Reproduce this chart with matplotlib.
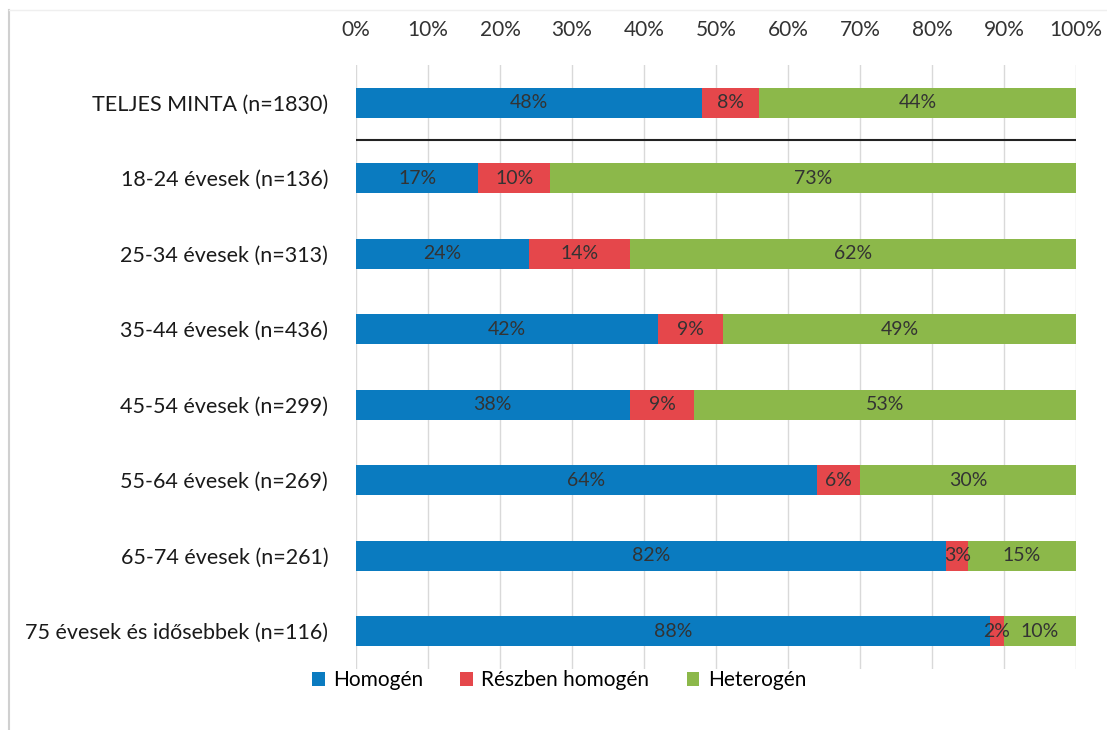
import matplotlib
matplotlib.use("Agg")
import matplotlib.pyplot as plt
from matplotlib.lines import Line2D

plt.rcParams['font.family'] = ['Lato', 'DejaVu Sans']

categories = ["TELJES MINTA (n=1830)", "18-24 évesek (n=136)", "25-34 évesek (n=313)",
              "35-44 évesek (n=436)", "45-54 évesek (n=299)", "55-64 évesek (n=269)",
              "65-74 évesek (n=261)", "75 évesek és idősebbek (n=116)"]
homogen = [48, 17, 24, 42, 38, 64, 82, 88]
reszben = [8, 10, 14, 9, 9, 6, 3, 2]
heterogen = [44, 73, 62, 49, 53, 30, 15, 10]
series_names = ["Homogén", "Részben homogén", "Heterogén"]
colors = ["#0a7bc0", "#e5474b", "#8cb84a"]

fig = plt.figure(figsize=(11.07, 7.3), dpi=100)
ax = fig.add_axes([0.3216, 0.0836, 0.6504, 0.8274])

# faint frame edges (left and top) as in the scanned chart
fig.lines.append(Line2D([0.008, 0.008], [0.0, 0.986], transform=fig.transFigure,
                        color="#d0d0d0", linewidth=1.5))
fig.lines.append(Line2D([0.008, 1.0], [0.986, 0.986], transform=fig.transFigure,
                        color="#efefef", linewidth=1))

ypos = list(range(len(categories)))
left = [0] * len(categories)
for vals, name, col in zip([homogen, reszben, heterogen], series_names, colors):
    bars = ax.barh(ypos, vals, left=left, height=0.4, color=col, label=name, zorder=3)
    for b, v in zip(bars, vals):
        ax.text(b.get_x() + b.get_width() / 2, b.get_y() + b.get_height() / 2, f"{v}%",
                ha="center", va="center", fontsize=14, color="#333333", zorder=4)
    left = [l + v for l, v in zip(left, vals)]

ax.set_xlim(0, 100)
ax.set_ylim(len(categories) - 0.5, -0.5)
ax.set_yticks(ypos)
ax.set_yticklabels(categories, fontsize=15.5, color="#1a1a1a")
ax.set_xticks(range(0, 101, 10))
ax.set_xticklabels([f"{t}%" for t in range(0, 101, 10)], fontsize=15, color="#333333")
ax.xaxis.tick_top()
ax.tick_params(axis="both", length=0)
ax.tick_params(axis="x", pad=18)
ax.tick_params(axis="y", pad=20)
ax.grid(axis="x", color="#d9d9d9", linewidth=1, zorder=0)
for s in ax.spines.values():
    s.set_visible(False)

# separator line under the full-sample bar
ax.axhline(0.5, color="#222222", linewidth=1.5, zorder=2)

fig.legend(loc="center", bbox_to_anchor=(0.505, 0.068), ncol=3, frameon=False,
           fontsize=15, handlelength=0.6, handleheight=0.6, columnspacing=1.8,
           handletextpad=0.4)

fig.savefig("out.png", dpi=100)
